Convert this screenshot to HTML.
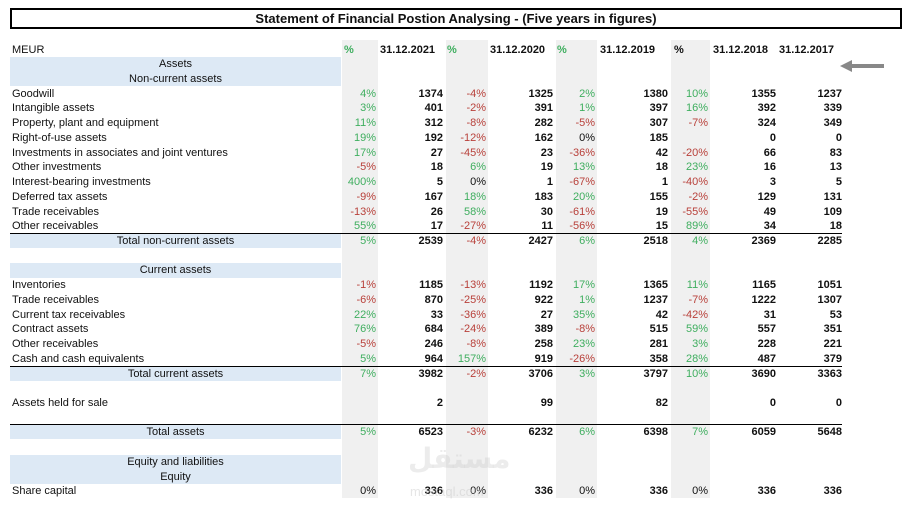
<!DOCTYPE html>
<html><head><meta charset="utf-8"><style>
body{margin:0;width:924px;height:512px;background:#fff;position:relative;overflow:hidden;font-family:"Liberation Sans",Arial,sans-serif;font-size:11px;color:#111}
.a{position:absolute;white-space:nowrap;line-height:14px}
.band{position:absolute;background:#f0f0f0;top:40px;height:458px}
.blue{position:absolute;background:#dde9f5;left:10px;width:331px}
.g{color:#3fae5f}.r{color:#b8403a}.b{font-weight:bold}
.line{position:absolute;left:10px;width:832px;height:1px;background:#000}
</style></head><body>
<div class="a" style="left:10px;top:8px;width:888px;height:17px;border:2px solid #000;text-align:center;font-weight:bold;font-size:13px;line-height:17px">Statement of Financial Postion Analysing - (Five years in figures)</div>
<div class="band" style="left:342px;width:36px"></div>
<div class="band" style="left:446px;width:42px"></div>
<div class="band" style="left:556px;width:41px"></div>
<div class="band" style="left:671px;width:39px"></div>
<div id="t"></div>
<svg style="position:absolute;left:836px;top:58px" width="50" height="16"><path d="M4 8 L16 2 L16 6 L48 6 L48 10 L16 10 L16 14 Z" fill="#888"/></svg>
<div class="a" style="left:408px;top:452px;font-size:28px;color:rgba(200,200,200,0.35);font-weight:bold;font-family:'DejaVu Sans',sans-serif">مستقل</div>
<div class="a" style="left:410px;top:485px;font-size:13px;color:rgba(200,200,200,0.45)">mostaql.com</div>
<script>
const headers=["%","31.12.2021","%","31.12.2020","%","31.12.2019","%","31.12.2018","31.12.2017"];
const headerX=[344,380,447,490,557,600,674,713,779];
const labels=["Goodwill","Intangible assets","Property, plant and equipment","Right-of-use assets","Investments in associates and joint ventures","Other investments","Interest-bearing investments","Deferred tax assets","Trade receivables","Other receivables","Total non-current assets","Inventories","Trade receivables","Current tax receivables","Contract assets","Other receivables","Cash and cash equivalents","Total current assets","Assets held for sale","Total assets","Share capital"];
const rowIdx=[3,4,5,6,7,8,9,10,11,12,13,16,17,18,19,20,21,22,24,26,30];
const v2021=["1374","401","312","192","27","18","5","167","26","17","2539","1185","870","33","684","246","964","3982","2","6523","336"];
const v2020=["1325","391","282","162","23","19","1","183","30","11","2427","1192","922","27","389","258","919","3706","99","6232","336"];
const v2019=["1380","397","307","185","42","18","1","155","19","15","2518","1365","1237","42","515","281","358","3797","82","6398","336"];
const v2018=["1355","392","324","0","66","16","3","129","49","34","2369","1165","1222","31","557","228","487","3690","0","6059","336"];
const v2017=["1237","339","349","0","83","13","5","131","109","18","2285","1051","1307","53","351","221","379","3363","0","5648","336"];
const p1=["4%","3%","11%","19%","17%","-5%","400%","-9%","-13%","55%","5%","-1%","-6%","22%","76%","-5%","5%","7%","","5%","0%"];
const p2=["-4%","-2%","-8%","-12%","-45%","6%","0%","18%","58%","-27%","-4%","-13%","-25%","-36%","-24%","-8%","157%","-2%","","-3%","0%"];
const p3=["2%","1%","-5%","0%","-36%","13%","-67%","20%","-61%","-56%","6%","17%","1%","35%","-8%","23%","-26%","3%","","6%","0%"];
const p4=["10%","16%","-7%","","-20%","23%","-40%","-2%","-55%","89%","4%","11%","-7%","-42%","59%","3%","28%","10%","","7%","0%"];
const sections=[["Assets",1],["Non-current assets",2],["Current assets",15],["Equity and liabilities",28],["Equity",29]];
const cols=[[p1,376,"p"],[v2021,443,"v"],[p2,486,"p"],[v2020,553,"v"],[p3,595,"p"],[v2019,668,"v"],[p4,708,"p"],[v2018,776,"v"],[v2017,842,"v"]];
const T=document.getElementById('t');
function Y(i){return 49.5+i*14.73;}
function add(txt,x,y,cls,right){const d=document.createElement('div');d.className='a '+(cls||'');d.textContent=txt;d.style.top=(y-7)+'px';if(right){d.style.right=(924-x)+'px';}else d.style.left=x+'px';T.appendChild(d);return d;}
let m=add("MEUR",12,Y(0));


headers.forEach((h,i)=>{const d=add(h,headerX[i],Y(0),h=="%"?(i==6?'b':'g b'):'b');

});
sections.forEach(s=>{const b=document.createElement('div');b.className='blue';b.style.top=(Y(s[1])-7.4)+'px';b.style.height='14.8px';


T.appendChild(b);const d=add(s[0],10,Y(s[1]));d.style.width='331px';d.style.textAlign='center';

});
labels.forEach((l,i)=>{const y=Y(rowIdx[i]);const tot=l.startsWith("Total");
if(tot){const b=document.createElement('div');b.className='blue';b.style.top=(y-7)+'px';b.style.height='14px';


T.appendChild(b);
const ln=document.createElement('div');ln.className='line';ln.style.top=(y-8)+'px';


T.appendChild(ln);}
const d=add(l,12,y);if(tot){d.style.left='10px';d.style.width='331px';d.style.textAlign='center';}


cols.forEach(c=>{const v=c[0][i];if(v==="")return;let cls=c[2]=="v"?'b':(v=="0%"?'':(v[0]=="-"?'r':'g'));
const e=add(v,c[1],y,cls,true);

});});
</script>
</body></html>
